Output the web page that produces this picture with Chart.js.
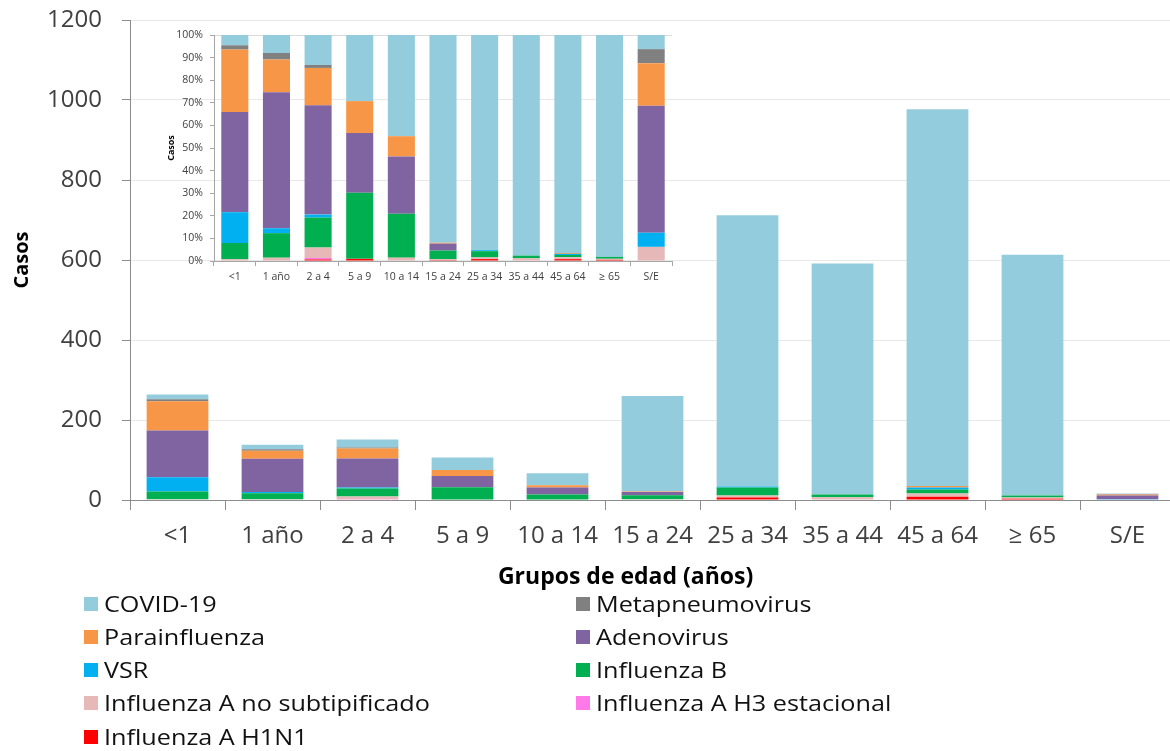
<!DOCTYPE html>
<html>
<head>
<meta charset="utf-8">
<script src="https://cdn.jsdelivr.net/npm/chart.js@4.4.0/dist/chart.umd.min.js"></script>
<style>
html, body { margin:0; padding:0; background:#fff; overflow:hidden; width:1170px; height:751px; }
#mainCanvas { position:absolute; left:0; top:0; }
#insetCanvas { position:absolute; left:150px; top:20px; }
#legend { position:absolute; left:0; top:0; width:1170px; height:751px; font-family:'Open Sans', sans-serif; pointer-events:none; }
.li { position:absolute; height:24px; display:flex; align-items:center; white-space:nowrap; }
.sw { width:14px; height:14px; flex:none; }
.tx { display:inline-block; font-size:21px; color:#111; transform:scaleX(1.2); transform-origin:0 50%; margin-left:6px; line-height:24px; }
</style>
</head>
<body>
<canvas id="mainCanvas" width="1176" height="600"></canvas>
<canvas id="insetCanvas" width="530" height="275"></canvas>
<div id="legend"></div>
<script>
// ---- Data (cases by age group) ----
const categories = ['<1', '1 año', '2 a 4', '5 a 9', '10 a 14', '15 a 24', '25 a 34', '35 a 44', '45 a 64', '≥ 65', 'S/E'];
const influenzaAH1N1   = [0, 0, 1, 1, 0, 1, 6, 0, 8, 3, 0];
const influenzaAH3     = [0, 0, 1, 0, 0, 0, 0, 0, 0, 0, 0];
const influenzaANoSub  = [2, 2, 7, 0, 1, 1, 5, 7, 8, 3, 1];
const influenzaB       = [19, 15, 20, 31, 13, 10, 20, 7, 10, 5, 0];
const vsr              = [36, 3, 2, 0, 0, 0, 3, 0, 5, 0, 1];
const adenovirus       = [117, 83, 73, 28, 17, 8, 0, 0, 0, 0, 9];
const parainfluenza    = [73, 20, 25, 15, 6, 1, 0, 0, 4, 0, 3];
const metapneumovirus  = [5, 4, 2, 0, 0, 0, 0, 0, 0, 0, 1];
const covid19          = [12, 11, 20, 31, 30, 239, 678, 577, 942, 602, 1];
const mainYTicks  = [0, 200, 400, 600, 800, 1000, 1200];
const insetYTicks = [0, 10, 20, 30, 40, 50, 60, 70, 80, 90, 100];

// stacking order bottom -> top
const series = [
  { name: 'Influenza A H1N1', values: influenzaAH1N1, color: '#FF0000' },
  { name: 'Influenza A H3 estacional', values: influenzaAH3, color: '#FF79E9' },
  { name: 'Influenza A no subtipificado', values: influenzaANoSub, color: '#E6B9B8' },
  { name: 'Influenza B', values: influenzaB, color: '#00B050' },
  { name: 'VSR', values: vsr, color: '#00B0F0' },
  { name: 'Adenovirus', values: adenovirus, color: '#8064A2' },
  { name: 'Parainfluenza', values: parainfluenza, color: '#F79646' },
  { name: 'Metapneumovirus', values: metapneumovirus, color: '#808080' },
  { name: 'COVID-19', values: covid19, color: '#93CDDD' }
];

const totals = categories.map((_, i) => series.reduce((s, d) => s + d.values[i], 0));
const FONT = 'Open Sans';

// ---- Main chart ----
new Chart(document.getElementById('mainCanvas'), {
  type: 'bar',
  data: {
    labels: categories,
    datasets: series.map(s => ({
      label: s.name, data: s.values, backgroundColor: s.color,
      borderWidth: 0, barPercentage: 0.65, categoryPercentage: 1
    }))
  },
  options: {
    responsive: false, animation: false,
    layout: { padding: { top: 20, left: 0, right: 1, bottom: 0 } },
    plugins: { legend: { display: false }, tooltip: { enabled: false } },
    scales: {
      x: {
        stacked: true,
        grid: { drawOnChartArea: false, tickLength: 10, color: '#8C8C8C', offset: true },
        border: { color: '#8C8C8C', width: 1 },
        ticks: { font: { family: FONT, size: 24 }, color: '#404040', padding: 12, maxRotation: 0, autoSkip: false },
        title: { display: true, text: 'Grupos de edad (años)         ', color: '#000',
                 font: { family: FONT, size: 23, weight: 'bold' }, padding: { top: 0, bottom: 9 } },
        afterFit(s) { s.height = 100; }
      },
      y: {
        stacked: true, min: 0, max: 1200,
        afterBuildTicks(s) { s.ticks = mainYTicks.map(v => ({ value: v })); },
        ticks: { font: { family: FONT, size: 24 }, color: '#404040', padding: 20, callback: v => String(v) },
        grid: { color: '#E8E8E8', tickLength: 8, tickColor: '#8C8C8C' },
        border: { color: '#8C8C8C', width: 1 },
        title: { display: true, text: 'Casos', color: '#000',
                 font: { family: FONT, size: 20, weight: 'bold' }, padding: { top: 10 } },
        afterFit(s) { s.width = 130; s.paddingTop = 0; s.paddingBottom = 0; }
      }
    }
  }
});

// ---- Inset chart (100% stacked, same data) ----
new Chart(document.getElementById('insetCanvas'), {
  type: 'bar',
  data: {
    labels: categories,
    datasets: series.map(s => ({
      label: s.name, data: s.values.map((v, i) => v / totals[i] * 100), backgroundColor: s.color,
      borderWidth: 0, barPercentage: 0.65, categoryPercentage: 1
    }))
  },
  options: {
    responsive: false, animation: false,
    layout: { padding: { top: 15, left: 0, right: 8, bottom: 0 } },
    plugins: { legend: { display: false }, tooltip: { enabled: false } },
    scales: {
      x: {
        stacked: true,
        grid: { drawOnChartArea: false, tickLength: 5, color: '#A6A6A6', offset: true },
        border: { color: '#A6A6A6' },
        ticks: { font: { family: FONT, size: 10.5 }, color: '#404040', padding: 5, maxRotation: 0, autoSkip: false },
        afterFit(s) { s.height = 34; }
      },
      y: {
        stacked: true, min: 0, max: 100,
        afterBuildTicks(s) { s.ticks = insetYTicks.map(v => ({ value: v })); },
        ticks: { font: { family: FONT, size: 10.5 }, color: '#404040', padding: 7, callback: v => v + '%' },
        grid: { color: c => (c.tick && c.tick.value === 100 ? '#DADADA' : 'rgba(0,0,0,0)'), tickLength: 4, tickColor: '#A6A6A6' },
        border: { color: '#A6A6A6' },
        title: { display: true, text: 'Casos', color: '#000',
                 font: { family: FONT, size: 9, weight: 'bold' }, padding: { top: 16 } },
        afterFit(s) { s.width = 64; s.paddingTop = 0; s.paddingBottom = 0; }
      }
    }
  }
});

// ---- Legend (two columns, reversed order) ----
const legend = document.getElementById('legend');
const legendItems = series.slice().reverse();
const colX = [84, 576];
const rowY = [604, 637, 670, 703, 737];
legendItems.forEach((s, k) => {
  const col = k % 2, row = Math.floor(k / 2);
  const el = document.createElement('div');
  el.className = 'li';
  el.style.left = colX[col] + 'px';
  el.style.top = (rowY[row] - 12) + 'px';
  const sw = document.createElement('span');
  sw.className = 'sw'; sw.style.background = s.color;
  const tx = document.createElement('span');
  tx.className = 'tx'; tx.textContent = s.name;
  el.appendChild(sw); el.appendChild(tx);
  legend.appendChild(el);
});
</script>
</body>
</html>
